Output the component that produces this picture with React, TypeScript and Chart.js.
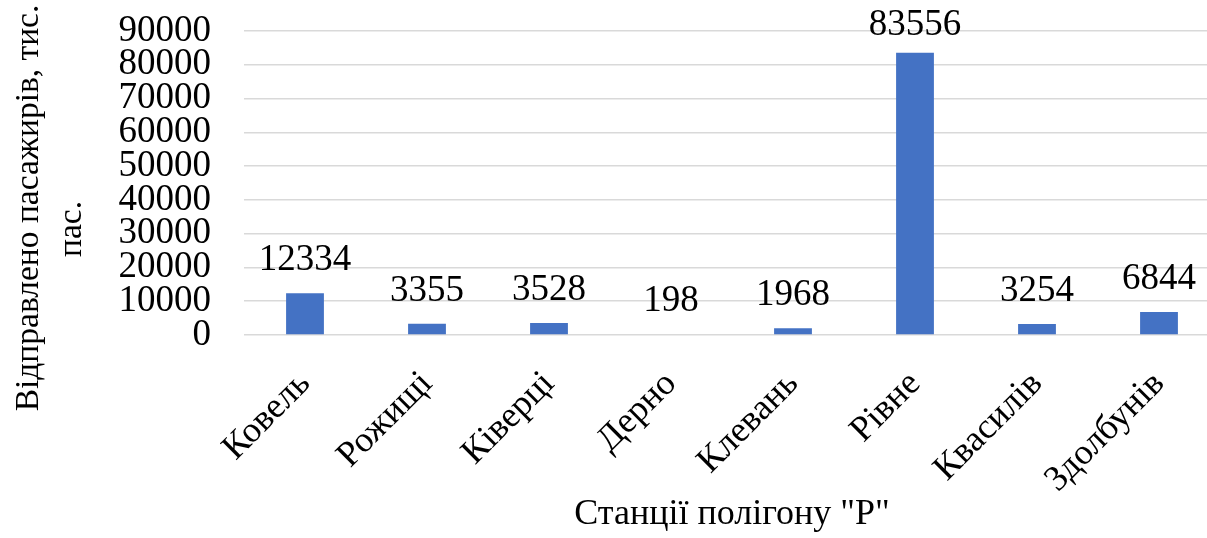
import React, { useEffect, useRef } from "react";
import { Chart, registerables } from "chart.js";

Chart.register(...registerables);

const categories: string[] = ["Ковель", "Рожищі", "Ківерці", "Дерно", "Клевань", "Рівне", "Квасилів", "Здолбунів"];
const passengers: number[] = [12334, 3355, 3528, 198, 1968, 83556, 3254, 6844];
const yTitleLines: string[] = ["Відправлено пасажирів, тис.", "пас."];
const xTitle = 'Станції полігону "Р"';
const yMin = 0;
const yMax = 90000;
const yStep = 10000;

const FONT = '"Liberation Serif", "Times New Roman", serif';

export default function App() {
  const ref = useRef<HTMLCanvasElement | null>(null);

  useEffect(() => {
    const canvas = ref.current;
    if (!canvas) return;

    const valueLabels = {
      id: "valueLabels",
      afterDatasetsDraw(chart: any) {
        const ctx = chart.ctx;
        const meta = chart.getDatasetMeta(0);
        ctx.save();
        ctx.font = `37px ${FONT}`;
        ctx.fillStyle = "#000";
        ctx.textAlign = "center";
        ctx.textBaseline = "alphabetic";
        meta.data.forEach((bar: any, i: number) => {
          const y = Math.max(bar.y - 23, 35);
          ctx.fillText(String(passengers[i]), bar.x, y);
        });
        ctx.restore();
      },
    };

    const yTitle = {
      id: "yTitle",
      afterDraw(chart: any) {
        const ctx = chart.ctx;
        ctx.save();
        ctx.font = `33.5px ${FONT}`;
        ctx.fillStyle = "#000";
        ctx.textAlign = "center";
        ctx.textBaseline = "middle";
        const pos = [
          [29, 208],
          [72, 229],
        ];
        yTitleLines.forEach((t, i) => {
          ctx.save();
          ctx.translate(pos[i][0], pos[i][1]);
          ctx.rotate(-Math.PI / 2);
          ctx.fillText(t, 0, 0);
          ctx.restore();
        });
        ctx.restore();
      },
    };

    const chart = new Chart(canvas, {
      type: "bar",
      data: {
        labels: categories,
        datasets: [
          {
            data: passengers,
            backgroundColor: "#4472C4",
            borderWidth: 0,
            barPercentage: 0.31,
            categoryPercentage: 1.0,
          },
        ],
      },
      options: {
        responsive: false,
        animation: false,
        layout: { padding: { top: 31, right: 12, bottom: 0, left: 0 } },
        plugins: {
          legend: { display: false },
          tooltip: { enabled: false },
        },
        scales: {
          x: {
            grid: { display: false, drawTicks: false },
            border: { display: false },
            ticks: {
              color: "#000",
              font: { family: FONT, size: 36 },
              maxRotation: 45,
              minRotation: 45,
              autoSkip: false,
              padding: 28,
            },
            title: {
              display: true,
              text: xTitle,
              color: "#000",
              font: { family: FONT, size: 36 },
              padding: { top: 0, bottom: 2 },
            },
            afterFit(scale: any) {
              scale.height = 203;
              scale.paddingLeft = 0;
              scale.paddingRight = 0;
            },
          },
          y: {
            min: yMin,
            max: yMax,
            grid: { color: "#d9d9d9", lineWidth: 1.5, drawTicks: false },
            border: { display: false },
            ticks: {
              stepSize: yStep,
              autoSkip: false,
              color: "#000",
              font: { family: FONT, size: 37 },
              padding: 33,
              callback: (v: any) => String(v),
            },
            afterFit(scale: any) {
              scale.width = 244;
              scale.paddingTop = 0;
              scale.paddingBottom = 0;
            },
          },
        },
      },
      plugins: [valueLabels, yTitle],
    });

    return () => chart.destroy();
  }, []);

  return (
    <div style={{ position: "fixed", left: 0, top: 0, width: 1232, height: 538, background: "#fff" }}>
      <canvas ref={ref} width={1232} height={538} style={{ width: 1232, height: 538, display: "block" }} />
    </div>
  );
}
